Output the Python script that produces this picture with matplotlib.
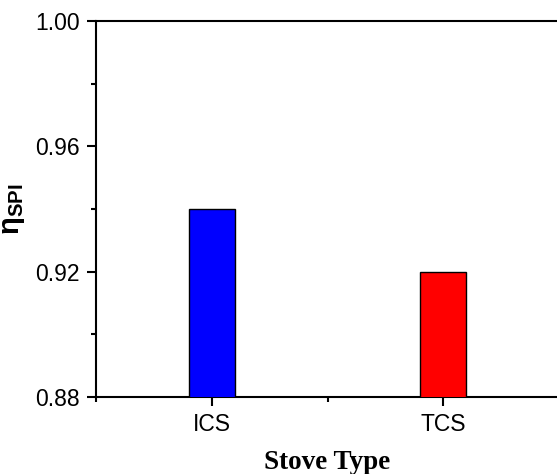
import matplotlib
matplotlib.use("Agg")
import matplotlib.pyplot as plt
from matplotlib.ticker import MultipleLocator, FixedLocator

categories = ["ICS", "TCS"]
values = [0.94, 0.92]
colors = ["#0000FF", "#FF0000"]
y_ticks = [0.88, 0.92, 0.96, 1.00]

plt.rcParams['mathtext.fontset'] = 'custom'
plt.rcParams['mathtext.rm'] = 'Liberation Sans'
plt.rcParams['mathtext.bf'] = 'Liberation Sans:bold'
plt.rcParams['mathtext.it'] = 'Liberation Sans:italic'

fig = plt.figure(figsize=(5.57, 4.74), dpi=100)
ax = fig.add_axes([96/557, 1-397/474, (559-96)/557, (397-21)/474])

x = list(range(1, len(categories)+1))
ax.bar(x, values, width=0.2, color=colors, edgecolor="black", linewidth=1.0, zorder=3)

ax.set_xlim(0.5, 2.5)
ax.set_ylim(0.88, 1.00)
ax.set_xticks(x)
ax.set_xticklabels(categories, fontfamily="Liberation Sans", fontsize=16.5)
ax.xaxis.set_minor_locator(FixedLocator([0.5, 1.5, 2.5]))
ax.set_yticks(y_ticks)
ax.set_yticklabels([f"{v:.2f}" for v in y_ticks], fontfamily="Liberation Sans", fontsize=16.5)
ax.yaxis.set_minor_locator(MultipleLocator(0.02))

ax.tick_params(which="major", direction="out", length=6.5, width=1.5, pad=5)
ax.tick_params(which="minor", direction="out", length=3.8, width=1.5)
for s in ax.spines.values():
    s.set_linewidth(1.5)

ax.set_xlabel("Stove Type", fontfamily="Liberation Serif", fontweight="bold", fontsize=19.5, labelpad=10)
ax.set_ylabel(r"η$_{\mathbf{SPI}}$", fontfamily="Liberation Sans", fontweight="bold", fontsize=21)
ax.yaxis.set_label_coords(-0.148, 0.5)

fig.savefig("out.png", dpi=100)
